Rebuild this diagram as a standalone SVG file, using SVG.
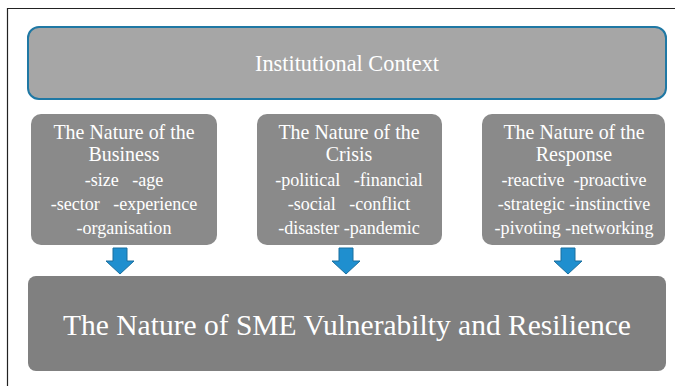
<svg xmlns="http://www.w3.org/2000/svg" width="675" height="386" viewBox="0 0 675 386">
  <style>
    .t { font-family: "Liberation Serif", "Times New Roman", serif; fill: #ffffff; text-anchor: middle; }
    .h { font-size: 21px; }
    .i { font-size: 19px; }
    .box { fill: #8a8a8a; }
    .arrow { fill: #1f8fcf; stroke: #1a6f9e; stroke-width: 1; }
  </style>
  <rect x="0" y="0" width="675" height="386" fill="#ffffff"/>
  <!-- page frame -->
  <path d="M7.5,386 V8.5 H675" fill="none" stroke="#222222" stroke-width="1.2"/>

  <g id="institutional-context">
    <rect x="28" y="27" width="638" height="72" rx="11" fill="#a6a6a6" stroke="#1f78a4" stroke-width="2"/>
    <text class="t" transform="translate(347,71) scale(0.93,1)" font-size="24">Institutional Context</text>
  </g>

  <g id="business">
    <rect class="box" x="31" y="114" width="186" height="131" rx="10"/>
    <g transform="translate(124,0) scale(0.95,1)">
      <text class="t h" y="139">The Nature of the</text>
      <text class="t h" y="161">Business</text>
      <text class="t i" y="186" xml:space="preserve">-size   -age</text>
      <text class="t i" y="210" xml:space="preserve">-sector   -experience</text>
      <text class="t i" y="234">-organisation</text>
    </g>
  </g>

  <g id="crisis">
    <rect class="box" x="257" y="114" width="185" height="131" rx="10"/>
    <g transform="translate(349,0) scale(0.95,1)">
      <text class="t h" y="139">The Nature of the</text>
      <text class="t h" y="161">Crisis</text>
      <text class="t i" y="186" xml:space="preserve">-political   -financial</text>
      <text class="t i" y="210" xml:space="preserve">-social   -conflict</text>
      <text class="t i" y="234">-disaster -pandemic</text>
    </g>
  </g>

  <g id="response">
    <rect class="box" x="482" y="114" width="183" height="131" rx="10"/>
    <g transform="translate(574,0) scale(0.95,1)">
      <text class="t h" y="139">The Nature of the</text>
      <text class="t h" y="161">Response</text>
      <text class="t i" y="186" xml:space="preserve">-reactive  -proactive</text>
      <text class="t i" y="210">-strategic -instinctive</text>
      <text class="t i" y="234">-pivoting -networking</text>
    </g>
  </g>

  <g id="connectors">
    <path class="arrow" d="M113,248 H127 V261 H134 L120,274 L106,261 H113 Z"/>
    <path class="arrow" d="M339,248 H353 V261 H360 L346,274 L332,261 H339 Z"/>
    <path class="arrow" d="M561,248 H575 V261 H582 L568,274 L554,261 H561 Z"/>
  </g>

  <g id="sme-vulnerability">
    <rect x="28" y="276" width="638" height="95" rx="8" fill="#808080"/>
    <text class="t" x="347" y="335" font-size="29.5">The Nature of SME Vulnerabilty and Resilience</text>
  </g>
</svg>
